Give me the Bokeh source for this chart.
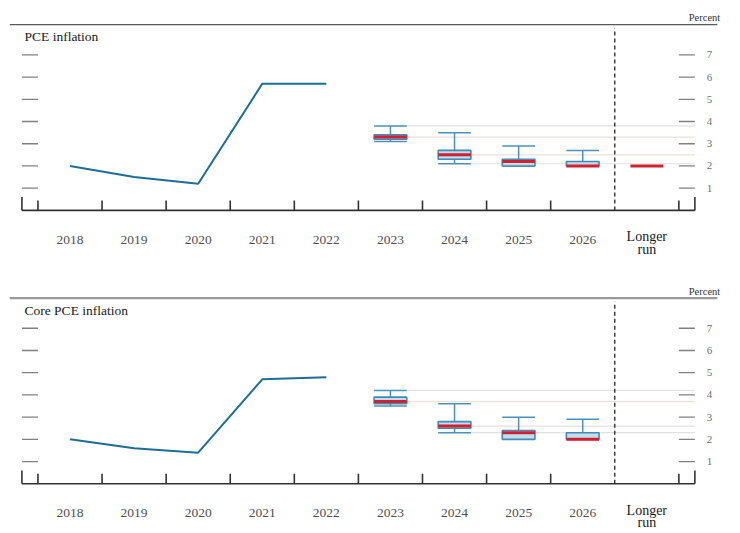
from bokeh.plotting import figure
from bokeh.layouts import column
from bokeh.models import Range1d
from bokeh.core.properties import value
from bokeh.embed import file_html
from bokeh.resources import INLINE

# ---------------- data ----------------
hist_years = ["2018", "2019", "2020", "2021", "2022"]
proj_years = ["2023", "2024", "2025", "2026"]
longer_run_label = ["Longer", "run"]
y_ticks = [1, 2, 3, 4, 5, 6, 7]

pce_actual = [2.0, 1.5, 1.2, 5.7, 5.7]
pce_median = [3.3, 2.5, 2.2, 2.0]
pce_ct_low = [3.2, 2.3, 2.0, 2.0]
pce_ct_high = [3.4, 2.7, 2.3, 2.2]
pce_range_low = [3.1, 2.1, 2.0, 2.0]
pce_range_high = [3.8, 3.5, 2.9, 2.7]
pce_longer_run = [2.0]

core_actual = [2.0, 1.6, 1.4, 4.7, 4.8]
core_median = [3.7, 2.6, 2.3, 2.0]
core_ct_low = [3.6, 2.5, 2.0, 2.0]
core_ct_high = [3.9, 2.8, 2.4, 2.3]
core_range_low = [3.5, 2.3, 2.0, 2.0]
core_range_high = [4.2, 3.6, 3.0, 2.9]
core_longer_run = []

# ---------------- layout / style ----------------
W = 740
X_UNIT = 64.09      # px per category
X_ORIGIN = 69.5     # px of first category center
Y_UNIT = 22.22      # px per percentage point
SERIF = value("Liberation Serif")

LINE_C = "#1c6e97"
BOX_LINE = "#3f8cb5"
BOX_FILL = "#c4dcf0"
WHISK_C = "#4c92b8"
MED_C = "#d2202f"

n_hist = len(hist_years)
hist_x = list(range(n_hist))
proj_x = [n_hist + i for i in range(len(proj_years))]
lr_x = n_hist + len(proj_years)
first = -0.5
last = lr_x + 0.5


def panel(title, actual, med, ctl, cth, rl, rh, lr, H, zero_px, rule_color, rule_w):
    p = figure(width=W, height=H, output_backend="svg", toolbar_location=None,
               x_range=Range1d(-X_ORIGIN / X_UNIT, (W - X_ORIGIN) / X_UNIT),
               y_range=Range1d(-(H - zero_px) / Y_UNIT, zero_px / Y_UNIT),
               min_border=0)
    p.axis.visible = False
    p.grid.visible = False
    p.outline_line_color = None
    p.background_fill_color = "white"
    p.border_fill_color = "white"

    top = 8.36
    # top rule
    p.segment(x0=[-0.94], y0=[top], x1=[lr_x + 1.1], y1=[top],
              line_color=rule_color, line_width=rule_w)
    # reference lines
    ref_y = [rh[0], med[0], med[1], rl[1]]
    ref_x0 = [proj_x[0], proj_x[0], proj_x[1], proj_x[1]]
    ref_c = ["#e0e0e0", "#eeded9", "#eeded9", "#e0e0e0"]
    p.segment(x0=ref_x0, y0=ref_y, x1=[last + 0.25] * 4, y1=ref_y,
              line_color=ref_c, line_width=1.2)

    # y tick marks left and right
    p.segment(x0=[first - 0.25] * len(y_ticks), y0=y_ticks, x1=[first] * len(y_ticks), y1=y_ticks,
              line_color="#808080", line_width=1.3)
    p.segment(x0=[last] * len(y_ticks), y0=y_ticks, x1=[last + 0.25] * len(y_ticks), y1=y_ticks,
              line_color="#808080", line_width=1.3)
    p.text(x=[last + 0.48] * len(y_ticks), y=y_ticks, text=[str(t) for t in y_ticks],
           text_font=SERIF, text_font_size="11px", text_color="#707070",
           text_align="center", text_baseline="middle")
    p.text(x=[last + 0.4], y=[8.67], text=["Percent"], text_font=SERIF,
           text_font_size="10.5px", text_color="#333333",
           text_align="center", text_baseline="middle")

    # bottom axis
    p.segment(x0=[first - 0.25], y0=[0], x1=[last + 0.25], y1=[0],
              line_color="#333333", line_width=1.6)
    tick_x = [first + i for i in range(lr_x + 2) if first + i != lr_x - 0.5]
    p.segment(x0=tick_x, y0=[0] * len(tick_x), x1=tick_x, y1=[0.45] * len(tick_x),
              line_color="#333333", line_width=1.6)
    p.segment(x0=[first - 0.25, last + 0.25], y0=[0, 0], x1=[first - 0.25, last + 0.25],
              y1=[0.6, 0.6], line_color="#333333", line_width=1.6)
    # dashed separator
    p.segment(x0=[lr_x - 0.5], y0=[0], x1=[lr_x - 0.5], y1=[8.2],
              line_color="#222222", line_width=1.3, line_dash="4 3")

    # category labels
    p.text(x=hist_x + proj_x, y=[-1.31] * (len(hist_x) + len(proj_x)),
           text=hist_years + proj_years, text_font=SERIF, text_font_size="13.5px",
           text_color="#505050", text_align="center", text_baseline="middle")
    p.text(x=[lr_x, lr_x], y=[-1.18, -1.74], text=longer_run_label, text_font=SERIF,
           text_font_size="14px", text_color="#1a1a1a", text_align="center",
           text_baseline="middle")

    # title
    p.text(x=[-0.71], y=[7.82], text=[title], text_font=SERIF, text_font_size="13.5px",
           text_color="#1a1a1a", text_align="left", text_baseline="middle")

    # actual line
    p.line(x=hist_x, y=actual, line_color=LINE_C, line_width=2)

    # whiskers
    hw = 0.255
    p.segment(x0=proj_x, y0=rl, x1=proj_x, y1=ctl, line_color=WHISK_C, line_width=1.5)
    p.segment(x0=proj_x, y0=cth, x1=proj_x, y1=rh, line_color=WHISK_C, line_width=1.5)
    p.segment(x0=[x - hw for x in proj_x], y0=rh, x1=[x + hw for x in proj_x], y1=rh,
              line_color=WHISK_C, line_width=1.5)
    p.segment(x0=[x - hw for x in proj_x], y0=rl, x1=[x + hw for x in proj_x], y1=rl,
              line_color=WHISK_C, line_width=1.5)
    # boxes
    p.quad(left=[x - hw for x in proj_x], right=[x + hw for x in proj_x], bottom=ctl, top=cth,
           fill_color=BOX_FILL, line_color=BOX_LINE, line_width=1.6)
    # medians
    p.segment(x0=[x - hw for x in proj_x], y0=med, x1=[x + hw for x in proj_x], y1=med,
              line_color=MED_C, line_width=3)
    if lr:
        p.segment(x0=[lr_x - hw] * len(lr), y0=lr, x1=[lr_x + hw] * len(lr), y1=lr,
                  line_color=MED_C, line_width=3)
    return p


p1 = panel("PCE inflation", pce_actual, pce_median, pce_ct_low, pce_ct_high,
           pce_range_low, pce_range_high, pce_longer_run, 268, 209.9, "#5a5a5a", 1.3)
p2 = panel("Core PCE inflation", core_actual, core_median, core_ct_low, core_ct_high,
           core_range_low, core_range_high, core_longer_run, 265, 215.3, "#9a9a9a", 2.2)

p = column(p1, p2, spacing=0)
open("out.html", "w").write(file_html(p, INLINE))
